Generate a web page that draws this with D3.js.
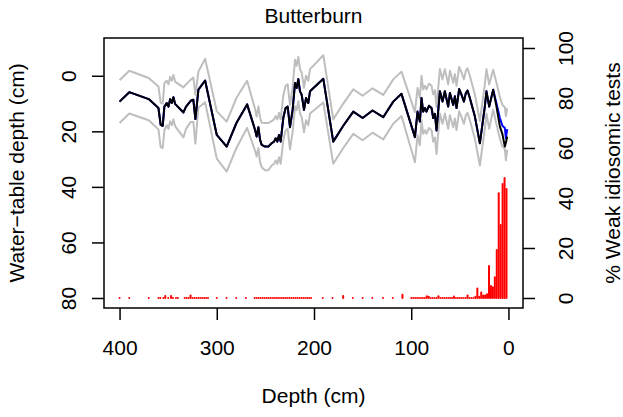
<!DOCTYPE html>
<html>
<head>
<meta charset="utf-8">
<script src="https://cdn.jsdelivr.net/npm/d3@7"></script>
<style>
    body { margin: 0; background: #fff; }
    svg { display: block; font-family: "Liberation Sans", Arial, Helvetica, sans-serif; }
</style>
</head>
<body>
<svg id="chart" width="623" height="417"></svg>
<script>

// Reconstructed water-table depth (cm) per sample depth (cm)
const wtdDepth = [400, 390, 370, 360, 357.7, 355.6, 353.9, 351.5, 349.7, 348,
    346.3, 344.6, 342.9, 334.3, 331.6, 326.8, 324.1, 322, 318.9, 312,
    300, 289.8, 279.8, 268.8, 260.6, 259, 257.2, 255.5, 253.8, 250.4,
    247, 243.6, 241.1, 239.4, 237.7, 236, 234.3, 231.5, 229.2, 227.1,
    224.7, 222, 219.5, 217.9, 216.1, 214.4, 212.7, 210.3, 208.2, 205.9,
    204.1, 190.4, 180.2, 169.9, 159.6, 150, 139.8, 128.8, 118.5, 110,
    96.2, 93.5, 91.1, 89.4, 87.7, 85.9, 84.3, 81.8, 79.1, 77.4,
    75.6, 74, 70.5, 67.8, 65.4, 62, 60.2, 56.8, 55.1, 53.4,
    50.7, 48.3, 45.8, 43.8, 42.1, 39.7, 34.5, 29.4, 24.3, 22.6,
    19.8, 15.7, 12.3, 8.8, 6.2, 3.7, 2.6, 1.3];

const wtdBlack = [9.3, 5.9, 8.4, 11.6, 17.7, 18, 11.1, 9.8, 11.1, 8.4,
    9.8, 7.7, 10.1, 13.2, 11.1, 9, 8.6, 15.6, 5, 1.7,
    21.3, 25.5, 17, 10.3, 19.5, 21.9, 18.5, 23, 24.9, 25.5,
    25.5, 24.3, 23.7, 22.5, 23.7, 21.3, 23.7, 15, 11.6, 11.1,
    18.5, 12.3, 2.6, 4.4, 1.2, 5.6, 6.8, 12.3, 8, 9.8,
    5.6, 1.1, 23.7, 18, 12.9, 15.2, 12.5, 14.9, 9.3, 6.5,
    22.1, 12.9, 16.5, 8, 12.9, 11.6, 12.9, 10.8, 11.6, 15.2,
    13.7, 19.7, 5.6, 9.3, 5.6, 11.1, 6.2, 10.5, 7.4, 11.6,
    4.8, 6.8, 9.3, 6.2, 5.3, 8, 14.7, 24.3, 11.1, 5.6,
    11.1, 5, 11.1, 18.3, 21, 25.5, 24, 21.9];

const wtdBlue = [9.3, 5.9, 8.4, 11.6, 17.7, 18, 11.1, 9.8, 11.1, 8.4,
    9.8, 7.7, 10.1, 13.2, 11.1, 9, 8.6, 15.6, 5, 1.7,
    21.3, 25.5, 17, 10.3, 19.5, 21.9, 18.5, 23, 24.9, 25.5,
    25.5, 24.3, 23.7, 22.5, 23.7, 21.3, 23.7, 15, 11.6, 11.1,
    18.5, 12.3, 2.6, 4.4, 1.2, 5.6, 6.8, 12.3, 8, 9.8,
    5.6, 1.1, 23.7, 18, 12.9, 15.2, 12.5, 14.9, 9.3, 6.5,
    22.1, 12.9, 16.5, 8, 12.9, 11.6, 12.9, 10.8, 11.6, 15.2,
    13.7, 19.7, 5.6, 9.3, 5.6, 11.1, 6.2, 10.5, 7.4, 11.6,
    4.8, 6.8, 9.3, 6.2, 5.3, 8, 14.7, 24.3, 11.1, 5.6,
    11.1, 5, 10, 15.2, 18, 18.8, 22.5, 19.2];

// sample-specific error (cm) around the blue reconstruction
const wtdErr = [7.7, 7.7, 7.6, 7.7, 8, 8, 8.5, 8, 8, 8,
    8, 8, 8, 9, 8, 7.6, 8, 8.8, 6.5, 7.8,
    8.5, 9, 9, 8.5, 7.5, 7.2, 7.5, 8, 8, 8.5,
    8.5, 8, 8, 8, 8, 8, 8, 8, 8, 8,
    8, 8, 8.4, 8, 8, 8, 8, 8, 8, 8,
    8, 8.5, 8, 8, 8, 8, 8, 8, 8, 8,
    9, 8.5, 8.5, 8, 8, 8, 8, 8, 8, 8.5,
    8.5, 8.5, 8, 8, 8, 8, 8, 8, 8, 8,
    8, 8, 8, 8, 8, 8, 8, 8, 8, 8,
    8, 7.2, 7.5, 7.5, 7.5, 7.5, 8, 7.5];

// % weak idiosomic tests
const testDepth = [400, 390, 370, 360, 358, 355, 353, 350, 347, 345, 342, 340,
    333, 331, 329, 327, 325, 323, 321, 319, 317, 315, 313, 311, 309,
    300, 290, 280, 270,
    261, 259, 257, 255, 253, 251, 249, 247, 245, 243, 241, 239, 237, 235, 233,
    231, 229, 227, 225, 223, 221, 219, 217, 215, 213, 211, 209, 207, 205, 203,
    191, 181, 170, 160, 150, 140, 129, 119, 109,
    100, 98, 96, 94, 92, 90, 88, 86, 84, 82,
    80, 78, 76, 74, 72, 70, 68, 66, 64, 62,
    60, 58, 56, 54, 52, 50, 48, 46, 44, 42,
    40, 38, 36, 34, 32, 30, 28, 26, 24, 22,
    20, 18, 16, 14, 12, 10, 8, 6, 4, 2];

const testPct = [0, 0, 0, 0, 0, 0, 0.8, 0, 0.8, 0, 0, 0,
    0, 0, 0, 1, 0, 0, 0, 0, 0, 0, 0, 0, 0,
    0, 0, 0, 0,
    0, 0, 0, 0, 0, 0, 0, 0, 0, 0, 0, 0, 0, 0, 0,
    0, 0, 0, 0, 0, 0, 0, 0, 0, 0, 0, 0, 0, 0, 0,
    0, 0, 0.8, 0, 0, 0, 0, 0, 1.3,
    0, 0, 0, 0, 0, 0, 0, 0, 0.7, 0.5,
    0, 0, 0, 0, 0.7, 0, 0, 0, 0, 0,
    0, 0, 0.6, 0, 0, 0, 0, 0, 0, 1,
    0, 0, 0, 0.5, 3.8, 0.5, 2.2, 1, 1, 1.5,
    12.8, 4.8, 4.3, 8.3, 19.2, 41.9, 29.2, 45.6, 48, 43.6];

const depthTicks = [400, 300, 200, 100, 0];
const wtdTicks = [0, 20, 40, 60, 80];
const pctTicks = [0, 20, 40, 60, 80, 100];

const svg = d3.select('#chart');
const box = {left: 104, right: 523, top: 38, bottom: 308};
const fontSize = 21;

// Scales (R style 4% padding)
const xScale = d3.scaleLinear().domain([416, -16]).range([box.left, box.right + 1]);
const yLeft = d3.scaleLinear().domain([-13.6, 83.6]).range([box.top, box.bottom]);
const yRight = d3.scaleLinear().domain([-4, 104]).range([box.bottom, box.top]);

const samples = wtdDepth.map((d, i) => ({
    depth: d, black: wtdBlack[i], blue: wtdBlue[i], err: wtdErr[i]
}));

const plot = svg.append('g');

// error band lines
const upper = d3.line().x(d => xScale(d.depth)).y(d => yLeft(d.blue - d.err));
const lower = d3.line().x(d => xScale(d.depth)).y(d => yLeft(d.blue + d.err));
[upper, lower].forEach(gen => {
    plot.append('path')
        .attr('d', gen(samples))
        .attr('fill', 'none')
        .attr('stroke', '#bebebe')
        .attr('stroke-width', 2)
        .attr('stroke-linejoin', 'round');
});

plot.append('path')
    .attr('d', d3.line().x(d => xScale(d.depth)).y(d => yLeft(d.blue))(samples))
    .attr('fill', 'none')
    .attr('stroke', '#0000ff')
    .attr('stroke-width', 2)
    .attr('stroke-linejoin', 'round');

plot.append('path')
    .attr('d', d3.line().x(d => xScale(d.depth)).y(d => yLeft(d.black))(samples))
    .attr('fill', 'none')
    .attr('stroke', '#000')
    .attr('stroke-width', 2)
    .attr('stroke-linejoin', 'round');

// red histogram-type bars
plot.selectAll('.bar')
    .data(testDepth.map((d, i) => ({depth: d, pct: testPct[i]})))
    .join('line')
    .attr('class', 'bar')
    .attr('x1', d => xScale(d.depth))
    .attr('x2', d => xScale(d.depth))
    .attr('y1', yRight(0))
    .attr('y2', d => yRight(d.pct))
    .attr('stroke', '#ff0000')
    .attr('stroke-width', 2)
    .attr('stroke-linecap', 'round');

// box
svg.append('rect')
    .attr('x', box.left).attr('y', box.top)
    .attr('width', box.right - box.left).attr('height', box.bottom - box.top)
    .attr('fill', 'none').attr('stroke', '#000').attr('stroke-width', 1.5);

function styleAxis(g) {
    g.attr('font-size', fontSize).attr('font-family', null);
    g.select('.domain').remove();
    g.selectAll('.tick line').attr('stroke-width', 1.5);
    g.selectAll('.tick text').attr('fill', '#000');
}

// Bottom axis
svg.append('g')
    .attr('transform', `translate(0, ${box.bottom})`)
    .call(d3.axisBottom(xScale).tickValues(depthTicks).tickSize(12).tickSizeOuter(0))
    .call(styleAxis)
    .selectAll('.tick text').attr('y', 47).attr('dy', null);

// Left axis
svg.append('g')
    .attr('transform', `translate(${box.left}, 0)`)
    .call(d3.axisLeft(yLeft).tickValues(wtdTicks).tickSize(12).tickSizeOuter(0))
    .call(styleAxis)
    .selectAll('.tick text')
    .attr('x', null).attr('dy', null)
    .attr('text-anchor', 'middle')
    .attr('transform', 'translate(-28,0) rotate(-90)');

// Right axis
svg.append('g')
    .attr('transform', `translate(${box.right}, 0)`)
    .call(d3.axisRight(yRight).tickValues(pctTicks).tickSize(12).tickSizeOuter(0))
    .call(styleAxis)
    .selectAll('.tick text')
    .attr('x', null).attr('dy', null)
    .attr('text-anchor', 'middle')
    .attr('transform', 'translate(50,0) rotate(-90)');

// Titles
const midX = (box.left + box.right) / 2;
const midY = (box.top + box.bottom) / 2;

svg.append('text')
    .attr('x', midX).attr('y', 23)
    .attr('text-anchor', 'middle')
    .attr('font-size', fontSize)
    .text('Butterburn');

svg.append('text')
    .attr('x', midX).attr('y', 403)
    .attr('text-anchor', 'middle')
    .attr('font-size', fontSize)
    .text('Depth (cm)');

svg.append('text')
    .attr('transform', `translate(24, ${midY}) rotate(-90)`)
    .attr('text-anchor', 'middle')
    .attr('font-size', fontSize)
    .text('Water\u2212table depth (cm)');

svg.append('text')
    .attr('transform', `translate(620, ${midY}) rotate(-90)`)
    .attr('text-anchor', 'middle')
    .attr('font-size', fontSize)
    .text('% Weak idiosomic tests');

</script>
</body>
</html>
